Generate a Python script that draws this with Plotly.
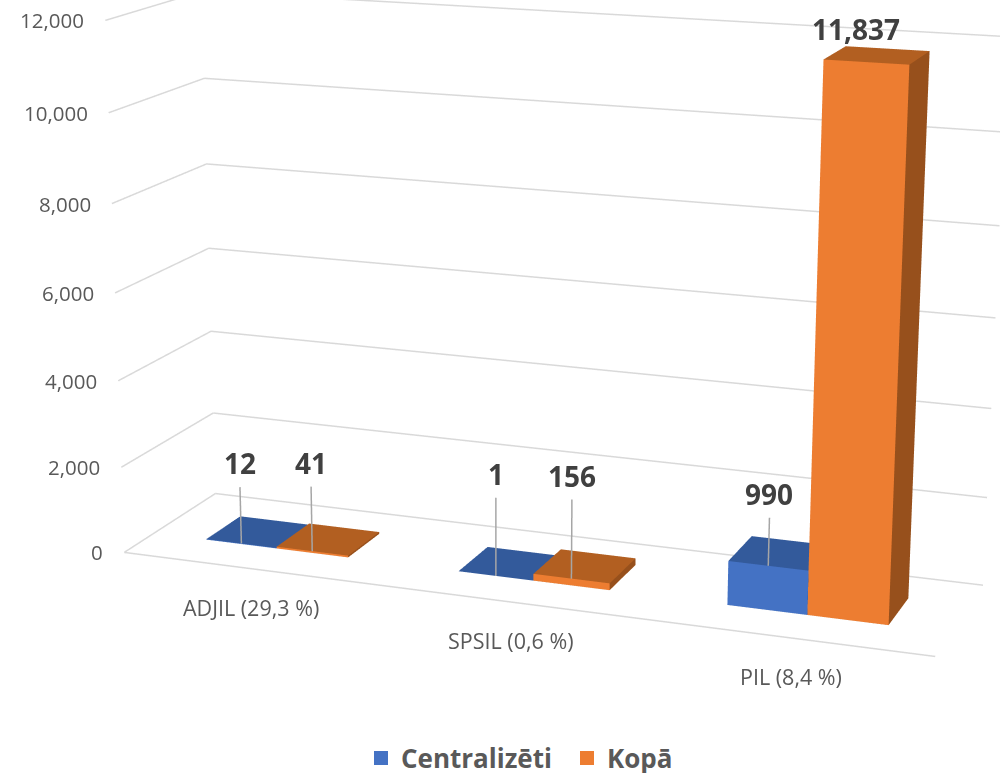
import plotly.graph_objects as go

categories = ["ADJIL (29,3 %)", "SPSIL (0,6 %)", "PIL (8,4 %)"]
centralizeti = [12, 1, 990]
kopa = [41, 156, 11837]
z_ticks = [0, 2000, 4000, 6000, 8000, 10000, 12000]
leader_blue = [1350, 1800, 2060]
leader_orange = [1560, 1960, None]
category_shift = [(2, -39), (1, -39), (2, -39)]

# page window and an enlarged canvas (narrower field of view, as in the original)
WIN_W, WIN_H = 1000, 773
F = 3000.0
H = int(round(F / 1.2071))
W = int(round(H * WIN_W / WIN_H))
OFFX, OFFY = (W - WIN_W) // 2, (H - WIN_H) // 2
px = lambda x: (x + OFFX) / W
py = lambda y: 1 - (y + OFFY) / H

BAR_W, Y0, Y1 = 0.2849, 0.3151, 0.6981
GRID = "#D9D9D9"


def box(x0, x1, y0, y1, z):
    xs = [x0, x1, x1, x0, x0, x1, x1, x0]
    ys = [y0, y0, y1, y1, y0, y0, y1, y1]
    zs = [0, 0, 0, 0, z, z, z, z]
    i = [0, 0, 1, 1, 3, 3, 2, 2, 4, 4, 0, 0]
    j = [1, 5, 2, 6, 2, 6, 3, 7, 5, 6, 1, 2]
    k = [5, 4, 6, 5, 6, 7, 7, 6, 6, 7, 2, 3]
    return xs, ys, zs, i, j, k


def bars(vals, side, name, front, top, right):
    X, Y, Z, I, J, K, C = [], [], [], [], [], [], []
    for c, v in enumerate(vals):
        x0 = c + 0.5 - BAR_W if side == 0 else c + 0.5
        xs, ys, zs, i, j, k = box(x0, x0 + BAR_W, Y0, Y1, v)
        n = len(X)
        X += xs; Y += ys; Z += zs
        I += [a + n for a in i]; J += [a + n for a in j]; K += [a + n for a in k]
        C += [front, front, right, right, right, right, right, right, top, top, top, top]
    return go.Mesh3d(x=X, y=Y, z=Z, i=I, j=J, k=K, facecolor=C, flatshading=True, name=name,
                     hoverinfo="skip", showlegend=False,
                     lighting=dict(ambient=1, diffuse=0, specular=0, fresnel=0, roughness=1))


fig = go.Figure()
for t in z_ticks:
    fig.add_trace(go.Scatter3d(x=[3, 0, 0], y=[1, 1, 0], z=[t] * 3, mode="lines",
                               line=dict(color=GRID, width=3), hoverinfo="skip", showlegend=False))
fig.add_trace(go.Scatter3d(x=[0, 3], y=[0, 0], z=[0, 0], mode="lines", line=dict(color=GRID, width=3),
                           hoverinfo="skip", showlegend=False))
fig.add_trace(bars(centralizeti, 0, "Centralizēti", "#4472C4", "#335A9B", "#2C4D86"))
fig.add_trace(bars(kopa, 1, "Kopā", "#ED7D31", "#B25F21", "#97501C"))

ann = []
for t in z_ticks:
    ann.append(dict(x=0, y=0, z=t, text=f"{t:,}", showarrow=False, xanchor="right", yanchor="middle",
                    xshift=-19, yshift=0, font=dict(family="Open Sans", size=20.5, color="#595959")))
for c, label in enumerate(categories):
    ann.append(dict(x=c + 0.5, y=0, z=0, text=label, showarrow=False, xanchor="center", yanchor="middle",
                    xshift=category_shift[c][0], yshift=category_shift[c][1],
                    font=dict(family="Open Sans", size=21.5, color="#595959")))
BOLD = dict(family="Open Sans", size=28, color="#404040")
for c in range(3):
    for vals, lead, xc in ((centralizeti, leader_blue, c + 0.5 - BAR_W / 2), (kopa, leader_orange, c + 0.5 + BAR_W / 2)):
        v, top = vals[c], lead[c]
        if top is not None:
            fig.add_trace(go.Scatter3d(x=[xc, xc], y=[Y0, Y0], z=[v, top], mode="lines",
                                       line=dict(color="#A6A6A6", width=3), hoverinfo="skip", showlegend=False))
        ann.append(dict(x=xc, y=Y0, z=top if top is not None else v, text=f"<b>{v:,}</b>", showarrow=False,
                        xanchor="center", yanchor="bottom",
                        xshift=0 if top is not None else -10, yshift=3 if top is not None else 12, font=BOLD))

for name, col in (("Centralizēti", "#4472C4"), ("Kopā", "#ED7D31")):
    fig.add_trace(go.Scatter3d(x=[None], y=[None], z=[None], mode="markers", name=name,
                               marker=dict(symbol="square", size=18, color=col, line=dict(color=col, width=6)),
                               showlegend=True))

hidden = dict(visible=False, showgrid=False, zeroline=False, showspikes=False)
fig.update_layout(
    width=W, height=H, margin=dict(l=0, r=0, t=0, b=0), autosize=False,
    paper_bgcolor="white", hovermode=False,
    legend=dict(orientation="h", x=px(361), y=py(758), xanchor="left", yanchor="middle",
                entrywidth=161, entrywidthmode="pixels", itemwidth=30,
                font=dict(family="Open Sans", size=26, color="#595959", weight="bold"), itemsizing="constant"),
    scene=dict(
        domain=dict(x=[0, 1], y=[0, 1]),
        xaxis=dict(range=[0, 3], **hidden), yaxis=dict(range=[0, 1], **hidden), zaxis=dict(range=[0, 12000], **hidden),
        aspectmode="manual", aspectratio=dict(x=1, y=0.2514, z=0.6485),
        camera=dict(eye=dict(x=1.1508, y=-3.1918, z=0.8518), center=dict(x=-0.1481, y=0.2345, z=-0.1745),
                    up=dict(x=0, y=0, z=1), projection=dict(type="perspective")),
        annotations=ann),
)
post = f"""
var gd=document.getElementById('{{plot_id}}');
document.documentElement.style.overflow='hidden';document.body.style.overflow='hidden';document.body.style.margin='0';
gd.style.position='fixed';gd.style.left='{-OFFX}px';gd.style.top='{-OFFY}px';
"""
fig.write_html("out.html", post_script=post, config=dict(displayModeBar=False))
